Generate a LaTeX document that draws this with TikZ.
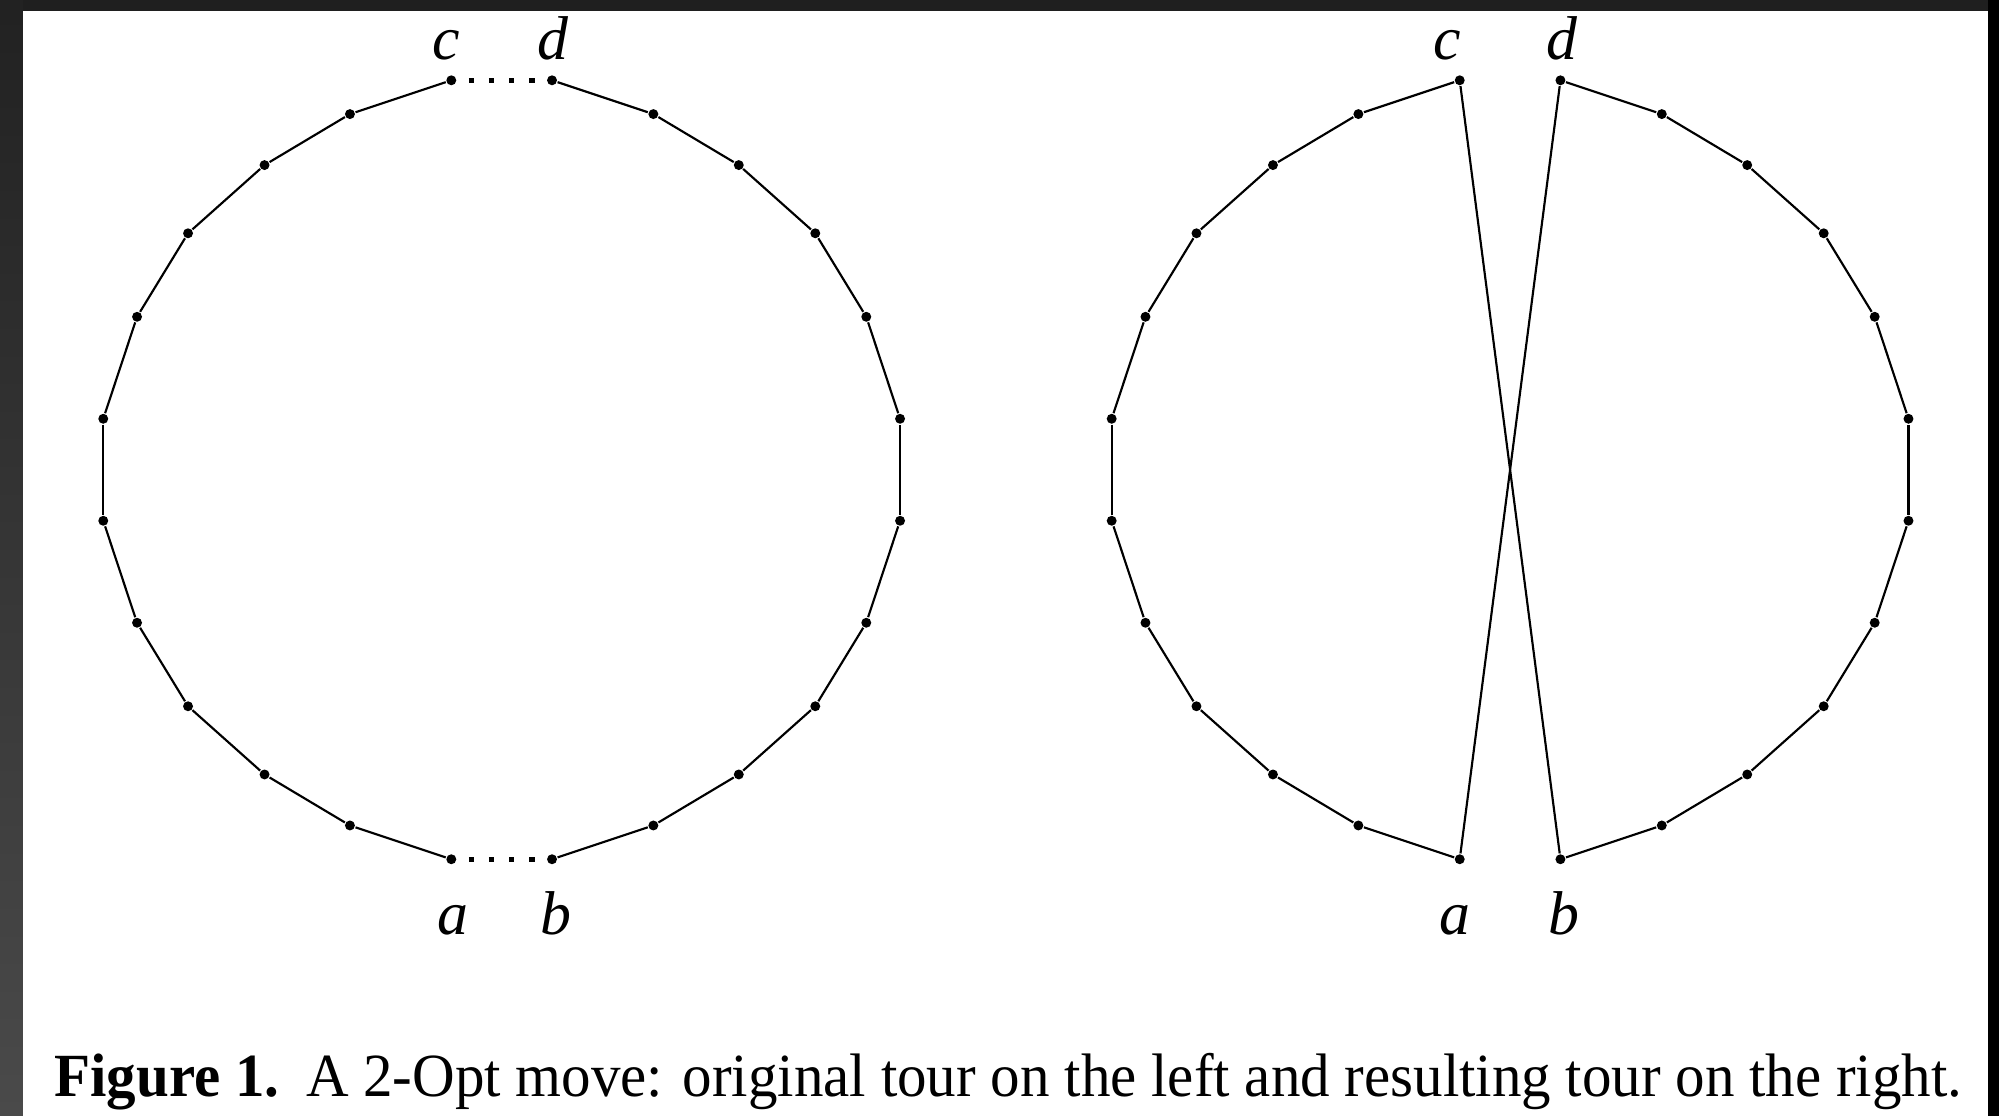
\documentclass[tikz,border=0pt]{standalone}
\usepackage{graphicx}
\usepackage{fontspec}
\setmainfont{Liberation Serif}
\begin{document}
\begin{tikzpicture}[x=0.1mm,y=-0.1mm,
  vtx/.style={circle,fill=black,inner sep=0pt,minimum size=0.78mm},
  edge/.style={draw=black,line width=0.48pt},
  dotedge/.style={draw=black,line width=0.42mm,dash pattern=on 0.42mm off 1.16mm,
    shorten <=1.37mm,shorten >=1.37mm},
  lbl/.style={anchor=base,inner sep=0pt,font=\fontsize{13.8}{16}\selectfont\itshape},
  captext/.style={anchor=base west,inner sep=0pt,font=\fontsize{13.7}{16}\selectfont}]
\useasboundingbox (0,0) rectangle (1568,875);
\fill[white] (0,0) rectangle (1568,875);
% frame
\fill[fill={rgb,255:red,31;green,31;blue,31}] (0,0) rectangle (1568,8.6);
\shade[top color={rgb,255:red,34;green,34;blue,34},bottom color={rgb,255:red,74;green,74;blue,74}] (0,8.6) rectangle (18,875);
\fill[fill={rgb,255:red,34;green,34;blue,34}] (0,0) rectangle (18,8.6);
\fill[black] (1559.3,0) rectangle (1568,875);
% vertices
\foreach \n/\dx/\dy in {1/-39.5/-305.5, 2/-119/-279, 3/-186/-239, 4/-246/-185.5,
  5/-286/-120, 6/-312.5/-40, 7/-312.5/40, 8/-286/120, 9/-246/185.5, 10/-186/239,
  11/-119/279, 12/-39.5/305.5, 13/39.5/305.5, 14/119/279, 15/186/239, 16/246/185.5,
  17/286/120, 18/312.5/40, 19/312.5/-40, 20/286/-120, 21/246/-185.5, 22/186/-239,
  23/119/-279, 24/39.5/-305.5}{
  \node[vtx] (L\n) at (393.5+\dx,368.5+\dy) {};
  \node[vtx] (R\n) at (1184.5+\dx,368.5+\dy) {};
}
% tour edges
\foreach \i in {1,...,11}{
  \pgfmathtruncatemacro\j{\i+1}
  \draw[edge] (L\i) -- (L\j);
  \draw[edge] (R\i) -- (R\j);
}
\foreach \i in {13,...,23}{
  \pgfmathtruncatemacro\j{\i+1}
  \draw[edge] (L\i) -- (L\j);
  \draw[edge] (R\i) -- (R\j);
}
% removed edges (left)
\draw[dotedge] (L12.center) -- (L13.center);
\draw[dotedge] (L1.center) -- (L24.center);
% new edges (right)
\draw[edge] (R1) -- (R13);
\draw[edge] (R24) -- (R12);
% labels
\node[lbl] (lc) at (350,47) {c};
\node[lbl] (ld) at (434,47) {d};
\node[lbl] (la) at (355,733) {a};
\node[lbl] (lb) at (436,733) {b};
\node[lbl] (rc) at (1135,47) {c};
\node[lbl] (rd) at (1225,47) {d};
\node[lbl] (ra) at (1141,733) {a};
\node[lbl] (rb) at (1227,733) {b};
% caption
\node[captext] (caption) at (42,860) {\scalebox{0.961}[1]{\textbf{Figure 1.}\hskip0.45em A 2-Opt move: original tour on the left and resulting tour on the right.}};
\end{tikzpicture}
\end{document}
